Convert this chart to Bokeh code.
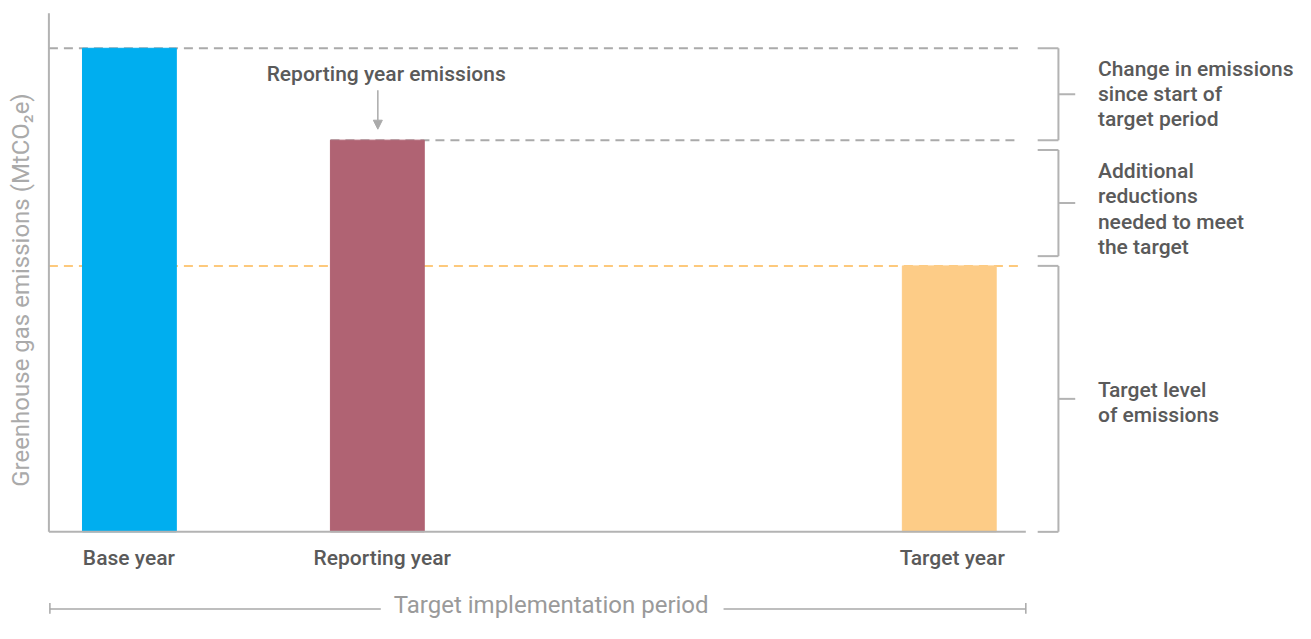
import math
from bokeh.plotting import figure
from bokeh.models import Range1d, ColumnDataSource, Arrow, NormalHead
from bokeh.embed import file_html
from bokeh.resources import INLINE
from bokeh.core.properties import value

# ---------------- data ----------------
categories = ["Base year", "Reporting year", "Target year"]
emissions = [100, 81, 55]
bar_colors = ["#00AEEF", "#B06373", "#FDCC87"]
annotation_text = "Reporting year emissions"
bracket_labels = [
    ["Change in emissions", "since start of", "target period"],
    ["Additional", "reductions", "needed to meet", "the target"],
    ["Target level", "of emissions"],
]
y_label = "Greenhouse gas emissions (MtCO\u2082e)"
period_label = "Target implementation period"

# ---------------- layout helpers ----------------
# the whole reference canvas (1311 x 639 px) is mapped onto the figure
W, H = 1295, 623
REF_W, REF_H = 1311, 639
PX = 4.96  # reference pixels per emission unit


def X(px):
    return px


def Y(py):
    return (545 - py) / PX


MED = value("'Roboto Medium', Roboto")
REG = value("Roboto")
DARK = "#5A5A5A"
LIGHT = "#AAAAAA"
LINE = "#B3B3B3"
FS_MED = "21px"

p = figure(width=W, height=H, x_range=Range1d(0, REF_W), y_range=Range1d(Y(REF_H), Y(0)),
           x_axis_location=None, y_axis_location=None, toolbar_location=None,
           output_backend="svg", min_border=0, outline_line_color=None)
p.grid.visible = False
p.background_fill_color = "white"
p.border_fill_color = "white"

BAR_X = [X(130.5), X(381.5), X(960.5)]
BAR_W = 95

# dashed reference lines (drawn under bars)
p.segment(x0=[X(49), X(334), X(49)], y0=emissions,
          x1=[X(1031)] * 3, y1=emissions,
          line_color=[LIGHT, LIGHT, "#FDC97C"], line_width=2, line_dash="9 6")

# bars
src = ColumnDataSource(dict(x=BAR_X, top=emissions, color=bar_colors, cat=categories))
p.vbar(x="x", top="top", bottom=0, width=BAR_W, color="color", source=src)

# axis lines
p.segment(x0=[X(49), X(49)], y0=[0, 0], x1=[X(49), X(1038)], y1=[Y(13), 0],
          line_color=LINE, line_width=2)

# category labels
p.text(x=[X(130), X(386.5), X(963.5)], y=[Y(572)] * 3, text=categories, text_font=MED,
       text_font_size=FS_MED, text_color=DARK, text_align="center",
       text_baseline="middle")

# y-axis label
p.text(x=[X(21)], y=[Y(297)], text=[y_label], angle=math.pi / 2, text_font=REG,
       text_font_size="24px", text_color=LIGHT, text_align="center",
       text_baseline="middle")

# reporting-year annotation and arrow
p.text(x=[X(390.5)], y=[Y(75)], text=[annotation_text], text_font=MED,
       text_font_size=FS_MED, text_color=DARK, text_align="center",
       text_baseline="middle")
p.add_layout(Arrow(end=NormalHead(size=9, fill_color=LIGHT, line_color=LIGHT),
                   x_start=X(382), y_start=Y(92), x_end=X(382), y_end=Y(132),
                   line_color=LIGHT, line_width=1.5))

# brackets on the right
gap = 10 / PX
b_top = [emissions[0], emissions[1] - gap, emissions[2]]
b_bot = [emissions[1], emissions[2] + gap, 0]
b_mid = [(a + b) / 2 for a, b in zip(b_top, b_bot)]
bx = X(1071)
x0s, y0s, x1s, y1s = [], [], [], []
for t, b, m in zip(b_top, b_bot, b_mid):
    x0s += [bx, X(1050), X(1050), bx]
    y0s += [t, t, b, m]
    x1s += [bx, bx, bx, X(1088)]
    y1s += [b, t, b, m]
p.segment(x0=x0s, y0=y0s, x1=x1s, y1=y1s, line_color=LINE, line_width=2)

label_rows = [[70, 96, 122], [175, 201, 227, 253], [399, 425]]
tx, ty, tt = [], [], []
for lines, rows in zip(bracket_labels, label_rows):
    for line, py in zip(lines, rows):
        tx.append(X(1111))
        ty.append(Y(py))
        tt.append(line)
p.text(x=tx, y=ty, text=tt, text_font=MED, text_font_size=FS_MED,
       text_color=DARK, text_align="left", text_baseline="middle")

# implementation period line
py_line = 624
p.segment(x0=[X(50), X(732), X(50), X(1038)],
          y0=[Y(py_line), Y(py_line), Y(py_line - 6), Y(py_line - 6)],
          x1=[X(385), X(1038), X(50), X(1038)],
          y1=[Y(py_line), Y(py_line), Y(py_line + 5), Y(py_line + 5)],
          line_color="#A8A8A8", line_width=1.5)
p.text(x=[X(557.5)], y=[Y(620)], text=[period_label], text_font=REG,
       text_font_size="24px", text_color="#9A9A9A", text_align="center",
       text_baseline="middle")

open("out.html", "w").write(file_html(p, INLINE))
